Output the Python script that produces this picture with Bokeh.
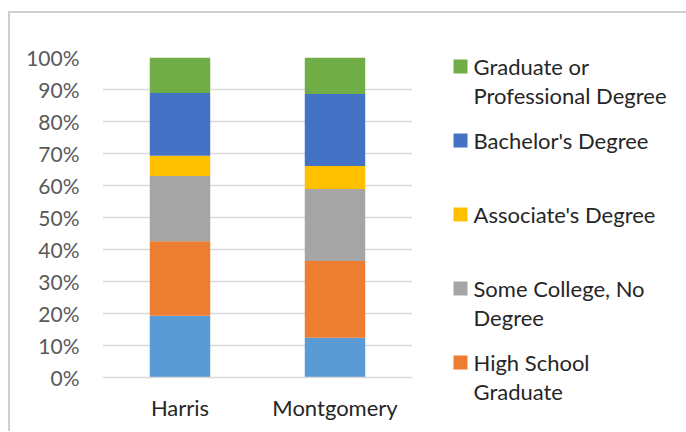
from bokeh.plotting import figure
from bokeh.models import (FactorRange, Range1d, FixedTicker, NumeralTickFormatter,
                          ColumnDataSource)
from bokeh.layouts import row, column
from bokeh.embed import file_html
from bokeh.resources import INLINE
from bokeh.core.properties import value

# ---- data ----
counties = ["Harris", "Montgomery"]
levels = ["Less than High School Graduate", "High School Graduate",
          "Some College, No Degree", "Associate's Degree",
          "Bachelor's Degree", "Graduate or Professional Degree"]
less_hs = [0.193, 0.124]
hs_grad = [0.233, 0.240]
some_college = [0.204, 0.225]
associate = [0.063, 0.072]
bachelor = [0.196, 0.225]
graduate = [0.111, 0.114]
y_ticks = [0, 0.1, 0.2, 0.3, 0.4, 0.5, 0.6, 0.7, 0.8, 0.9, 1.0]
legend_labels = ["Less than High School\nGraduate", "High School\nGraduate",
                 "Some College, No\nDegree", "Associate's Degree",
                 "Bachelor's Degree", "Graduate or\nProfessional Degree"]
colors = ["#5B9BD5", "#ED7D31", "#A5A5A5", "#FFC000", "#4472C4", "#70AD47"]

FONT = "Lato"
OX, OY = 10, 13          # page offset of the figures (margin + frame border)
H = 418

source = ColumnDataSource(dict(
    county=counties,
    **{levels[0]: less_hs, levels[1]: hs_grad, levels[2]: some_college,
       levels[3]: associate, levels[4]: bachelor, levels[5]: graduate}))

p = figure(x_range=FactorRange(*counties), y_range=Range1d(0, 1),
           width=430 - OX, height=H, output_backend="svg", toolbar_location=None,
           min_border_left=102 - OX, min_border_right=18, min_border_top=57 - OY,
           min_border_bottom=H - (377 - OY))
p.vbar_stack(levels, x="county", width=0.39, color=colors, line_color=None,
             source=source)

p.outline_line_color = None
p.background_fill_color = "white"
p.border_fill_color = "white"
p.xgrid.visible = False
p.ygrid.grid_line_color = "#D9D9D9"
p.ygrid.grid_line_width = 1.5
p.ygrid.ticker = FixedTicker(ticks=y_ticks)

p.yaxis.ticker = FixedTicker(ticks=y_ticks)
p.yaxis.formatter = NumeralTickFormatter(format="0%")
p.yaxis.axis_line_color = None
p.yaxis.major_tick_line_color = None
p.yaxis.minor_tick_line_color = None
p.yaxis.major_tick_out = 0
p.yaxis.major_tick_in = 0
p.yaxis.major_label_standoff = 23
p.yaxis.major_label_text_font = FONT
p.yaxis.major_label_text_font_size = "21px"
p.yaxis.major_label_text_color = "#595959"

p.xaxis.axis_line_color = "#D9D9D9"
p.xaxis.axis_line_width = 1.5
p.xaxis.major_tick_line_color = None
p.xaxis.major_tick_out = 0
p.xaxis.major_tick_in = 0
p.xaxis.major_label_standoff = 16
p.xaxis.major_label_text_font = FONT
p.xaxis.major_label_text_font_size = "22px"
p.xaxis.major_label_text_color = "#262626"

# ---- legend panel ----
n_shown = 5  # the last entry lies below the visible area
order = list(range(len(levels)))[::-1][:n_shown]
LW = 686 - 430
y_top = (OY - 66) / 74.0
y_bot = (OY + H - 66) / 74.0
lf = figure(width=LW, height=H, x_range=Range1d(0, LW),
            y_range=Range1d(y_bot, y_top), output_backend="svg",
            toolbar_location=None, min_border=0, min_border_top=0,
            min_border_bottom=0, min_border_left=0, min_border_right=0)
lf.axis.visible = False
lf.grid.visible = False
lf.outline_line_color = None
lf.border_fill_color = "white"
lf.background_fill_color = "white"

sq = dict(x=[], y=[], c=[])
tx = dict(x=[], y=[], t=[], off=[])
for pos, i in enumerate(order):
    sq["x"].append(30)
    sq["y"].append(pos)
    sq["c"].append(colors[i])
    for k, line in enumerate(legend_labels[i].split("\n")):
        tx["x"].append(43)
        tx["y"].append(pos)
        tx["t"].append(line)
        tx["off"].append(29 * k)

lf.rect(x="x", y="y", width=14, height=14, width_units="screen",
        height_units="screen", fill_color="c", line_color=None,
        source=ColumnDataSource(sq))
lf.text(x="x", y="y", text="t", y_offset="off", text_baseline="middle",
        text_align="left", text_font=value(FONT), text_font_size="22px",
        text_color="#262626", source=ColumnDataSource(tx))

layout = row(p, column(lf))
layout.styles = {"margin-left": "8px", "margin-top": "11px",
                 "border-left": "2px solid #D0D0D0",
                 "border-top": "2px solid #D0D0D0"}

open("out.html", "w").write(file_html(layout, INLINE))
